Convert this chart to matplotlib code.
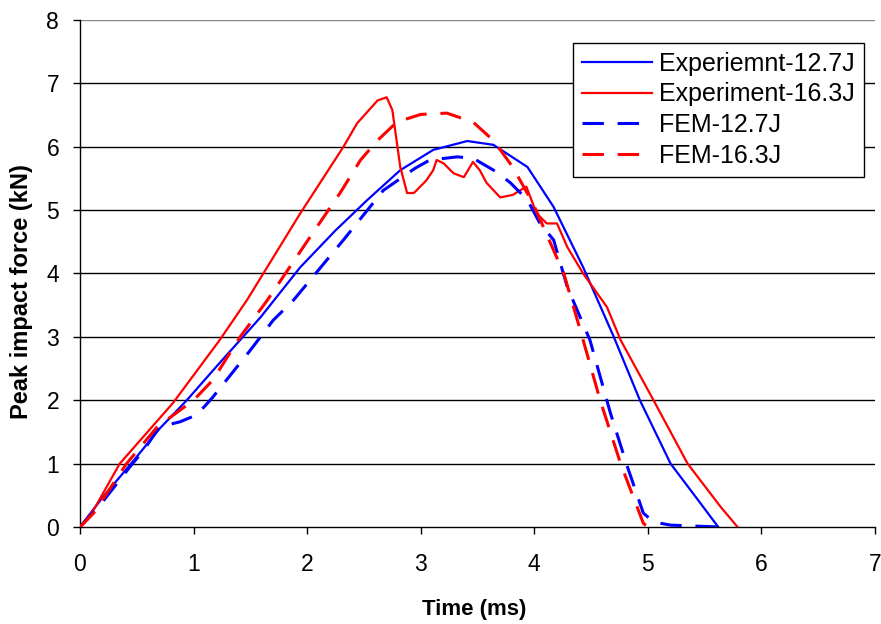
import matplotlib
matplotlib.use("Agg")
import matplotlib.pyplot as plt

plt.rcParams['font.family'] = ['Liberation Sans', 'DejaVu Sans']

# Experiment 12.7 J (blue solid)
exp127_t = [0, 0.2, 0.45, 0.7, 0.94, 1.23, 1.59, 1.94, 2.25, 2.53, 2.82, 3.11, 3.41,
            3.64, 3.94, 4.17, 4.43, 4.7, 4.93, 5.2, 5.44, 5.62]
exp127_f = [0, 0.47, 1.0, 1.55, 2.0, 2.59, 3.31, 4.1, 4.68, 5.16, 5.63, 5.95, 6.09,
            6.03, 5.68, 5.05, 4.1, 3.0, 2.0, 1.0, 0.43, 0]

# Experiment 16.3 J (red solid)
exp163_t = [0, 0.12, 0.35, 0.82, 1.23, 1.47, 1.94, 2.32, 2.44, 2.62, 2.7, 2.75, 2.82,
            2.88, 2.94, 3.05, 3.11, 3.14, 3.2, 3.29, 3.38, 3.46, 3.52, 3.58, 3.7,
            3.81, 3.93, 4.02, 4.11, 4.2, 4.29, 4.43, 4.64, 4.76, 5.05, 5.35, 5.64, 5.79]
exp163_f = [0, 0.27, 1.0, 1.96, 2.95, 3.58, 4.95, 6.0, 6.37, 6.73, 6.78, 6.58, 5.68,
            5.27, 5.27, 5.47, 5.63, 5.79, 5.74, 5.58, 5.52, 5.76, 5.63, 5.43, 5.2,
            5.24, 5.37, 4.95, 4.79, 4.79, 4.42, 4.0, 3.47, 2.95, 2.0, 1.0, 0.32, 0]

# FEM 12.7 J (blue dashed)
fem127_t = [0, 0.2, 0.44, 0.56, 0.7, 0.88, 1.03, 1.17, 1.29, 1.5, 1.7, 1.88, 2.32,
            2.67, 2.95, 3.08, 3.32, 3.46, 3.67, 3.79, 3.94, 4.05, 4.17, 4.29, 4.49,
            4.67, 4.82, 4.96, 5.05, 5.2, 5.49, 5.64]
fem127_f = [0, 0.4, 0.95, 1.21, 1.58, 1.66, 1.77, 2.05, 2.32, 2.79, 3.26, 3.58, 4.53,
            5.31, 5.66, 5.79, 5.84, 5.82, 5.6, 5.43, 5.16, 4.79, 4.53, 3.79, 2.95,
            1.8, 0.95, 0.22, 0.08, 0.03, 0.01, 0]

# FEM 16.3 J (red dashed)
fem163_t = [0, 0.12, 0.41, 0.68, 1.0, 1.17, 1.41, 1.65, 2.05, 2.29, 2.47, 2.62, 2.79,
            3.0, 3.23, 3.46, 3.64, 3.81, 3.99, 4.26, 4.43, 4.58, 4.76, 4.96, 5.0]
fem163_f = [0, 0.22, 1.0, 1.58, 2.0, 2.32, 3.0, 3.58, 4.64, 5.27, 5.79, 6.1, 6.39,
            6.51, 6.53, 6.39, 6.1, 5.68, 5.1, 4.0, 2.95, 2.0, 1.0, 0.06, 0]

labels = ['Experiemnt-12.7J', 'Experiment-16.3J', 'FEM-12.7J', 'FEM-16.3J']
x_ticks = [0, 1, 2, 3, 4, 5, 6, 7]
y_ticks = [0, 1, 2, 3, 4, 5, 6, 7, 8]

fig = plt.figure(figsize=(8.81, 6.24), dpi=100)
ax = fig.add_axes([0.0908, 0.1554, 0.9024, 0.8126])

for yv in y_ticks[1:]:
    ax.axhline(yv, color='#888888' if yv == 8 else 'black', lw=1.0, zorder=1)

dash = (0, (7, 4.5))
ax.plot(exp127_t, exp127_f, color='#0000FF', lw=1.6, label=labels[0], zorder=3)
ax.plot(exp163_t, exp163_f, color='#FF0000', lw=1.6, label=labels[1], zorder=3)
ax.plot(fem127_t, fem127_f, color='#0000FF', lw=2.2, linestyle=dash, label=labels[2], zorder=3)
ax.plot(fem163_t, fem163_f, color='#FF0000', lw=2.2, linestyle=dash, label=labels[3], zorder=3)

ax.set_xlim(0, 7)
ax.set_ylim(0, 8)
ax.set_xticks(x_ticks)
ax.set_yticks(y_ticks)
ax.tick_params(direction='out', length=5, width=1, labelsize=16.5, colors='black')
ax.tick_params(axis='x', pad=14)
ax.tick_params(axis='y', pad=10)
for s in ['top', 'right']:
    ax.spines[s].set_visible(False)
for s in ['left', 'bottom']:
    ax.spines[s].set_linewidth(1.0)
    ax.spines[s].set_color('black')

ax.set_xlabel('Time (ms)', fontsize=16, fontweight='bold')
ax.xaxis.set_label_coords(0.496, -0.142)
ax.set_ylabel('Peak impact force (kN)', fontsize=17, fontweight='bold')
ax.yaxis.set_label_coords(-0.059, 0.465)

leg = ax.legend(loc='upper right', bbox_to_anchor=(0.986, 0.955), fontsize=18,
                frameon=True, fancybox=False, edgecolor='black', framealpha=1,
                handlelength=2.8, handletextpad=0.3, labelspacing=0.27, borderpad=0.35,
                borderaxespad=0)
leg.get_frame().set_linewidth(1.0)

fig.savefig('out.png', dpi=100)
